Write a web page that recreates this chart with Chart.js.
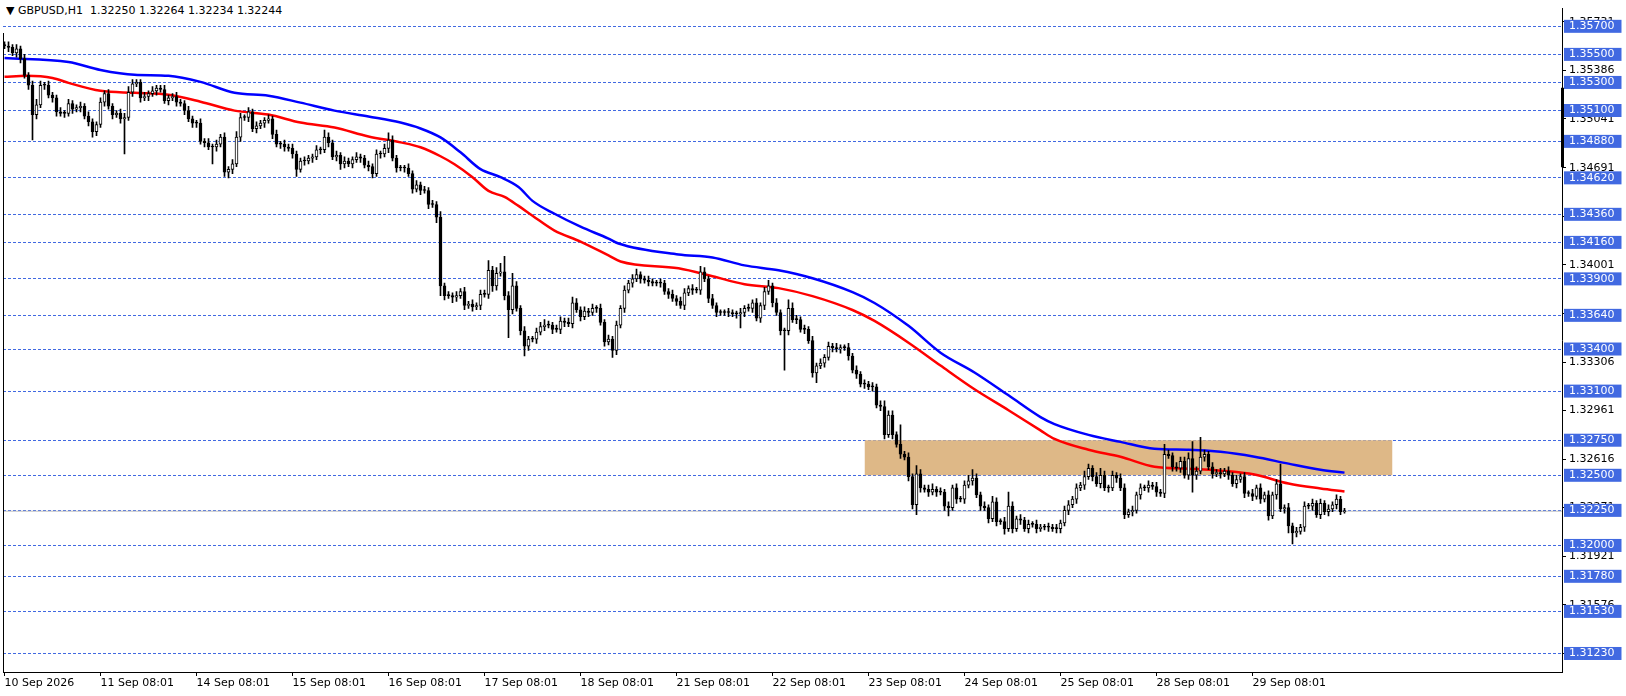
<!DOCTYPE html>
<html><head><meta charset="utf-8">
<script src="https://cdn.jsdelivr.net/npm/chart.js@4.4.1/dist/chart.umd.min.js"></script>
<style>
html,body{margin:0;padding:0;background:#fff;}
#wrap{position:relative;width:1626px;height:696px;}
#title{position:absolute;left:6px;top:4px;font:11px "DejaVu Sans",sans-serif;color:#000;background:#fff;padding-right:3px;line-height:13px;}
</style></head><body>
<div id="wrap"><canvas id="c" width="1626" height="696"></canvas>
<div id="title">▼ GBPUSD,H1&nbsp; 1.32250 1.32264 1.32234 1.32244</div></div>
<script>
// closes, in pips above 1.30000 (H1 bars)
const closePips = [
556,555,551,554,547,535,528,507,514,528,
528,521,519,509,508,508,515,511,512,513,
506,502,495,500,516,522,513,507,508,504,
505,523,529,530,519,520,522,524,526,525,
517,519,520,516,515,510,504,501,501,488,
487,484,484,486,491,466,468,472,491,505,
505,509,497,499,501,503,504,493,486,486,
484,483,479,468,474,474,476,477,482,482,
491,487,477,478,472,474,472,475,477,476,
471,470,465,479,479,483,489,476,469,469,
469,465,454,457,453,453,443,443,434,385,
378,378,377,378,381,371,372,370,371,379,
379,396,385,394,395,378,368,385,369,353,
342,347,347,352,356,357,357,354,354,360,
359,358,373,368,363,367,366,369,369,359,
345,347,339,357,369,382,387,390,393,390,
389,388,387,387,387,381,379,376,374,371,
380,383,382,382,395,390,376,371,366,366,
366,366,365,365,366,369,369,373,362,371,
381,385,373,366,353,353,369,361,361,354,
354,346,323,328,330,334,342,341,340,341,
341,335,325,322,315,315,313,313,300,299,
279,293,279,272,265,263,249,229,251,241,
240,238,240,238,238,228,227,241,233,233,
243,246,248,236,228,227,219,231,217,217,
212,228,212,219,218,212,215,215,212,213,
213,213,212,212,216,225,229,233,241,243,
249,255,249,244,250,241,241,250,248,241,
222,224,225,236,241,241,243,242,238,237,
265,264,256,255,260,250,262,250,253,263,
265,256,251,252,251,253,250,244,247,249,
237,237,235,241,233,236,221,236,244,226,
227,214,209,210,213,228,228,230,222,230,
224,226,229,233,224,224.4];
const firstOpenPips = 557;
// upper / lower wick lengths in pips beyond the body
const wickUp = [
2,3,2,3,2,3,2,3,4,3, 2,3,2,2,3,2,3,2,2,3, 2,3,2,2,3,2,3,2,2,3, 3,4,3,2,2,3,2,3,2,2,
3,2,2,3,2,2,3,2,2,3, 2,3,2,3,2,3,2,3,4,3, 2,3,2,3,2,2,3,2,3,2, 3,2,3,2,2,3,2,2,3,2,
5,3,2,3,2,3,2,2,3,2, 2,3,2,3,2,3,5,3,2,2, 2,3,2,3,2,3,2,3,2,4, 2,3,2,3,2,3,2,3,2,3,
3,7,3,4,6,11,3,9,3,2, 3,2,2,3,3,4,3,2,3,3, 2,3,4,3,2,3,2,3,2,3, 2,3,2,3,2,3,2,3,4,2,
2,3,2,2,3,2,2,3,2,3, 3,2,3,2,4,3,2,3,2,2, 2,3,2,2,3,2,3,2,3,2, 3,4,2,3,2,2,6,4,3,2,
3,2,3,2,3,2,3,2,3,2, 2,3,2,3,2,3,2,3,2,3, 4,3,3,2,14,2,3,2,6,3, 2,3,4,2,3,2,3,2,3,2,
3,4,6,3,2,3,2,4,3,2, 3,10,3,2,3,2,3,2,3,2, 2,3,2,3,2,3,3,2,3,2, 4,3,2,3,5,3,2,3,2,3,
3,2,3,2,3,2,3,2,3,2, 7,3,2,3,3,3,4,12,3,14, 3,2,3,2,3,2,3,2,3,2, 3,2,3,2,3,2,3,2,3,14,
2,3,2,3,2,3,2,3,2,3, 2,3,2,3,2,2];
const wickDn = [
2,3,2,3,3,2,3,18,3,2, 3,2,3,3,2,3,2,3,2,3, 2,3,4,3,2,3,2,3,2,3, 25,2,3,2,3,2,3,2,3,2,
2,3,2,3,2,3,2,3,3,2, 3,2,12,3,2,3,4,3,2,3, 2,3,2,3,2,3,2,3,2,3, 3,2,3,5,2,3,2,3,2,3,
2,3,2,3,4,3,2,3,2,3, 2,3,3,2,3,2,3,2,3,2, 3,2,3,2,3,2,3,2,4,7, 3,2,4,3,2,3,2,3,2,3,
2,3,4,3,2,3,20,3,2,3, 7,3,2,3,2,3,2,3,2,3, 3,2,3,2,3,2,3,2,3,2, 3,2,5,3,2,3,2,3,2,3,
2,3,2,2,3,2,3,2,3,2, 3,2,3,2,3,2,3,2,3,2, 2,3,2,3,10,3,2,3,2,3, 3,2,3,2,3,28,3,2,3,2,
3,2,3,7,2,3,2,3,2,3, 2,3,2,3,2,3,2,3,2,3, 3,2,3,2,3,2,3,3,7,3, 2,3,2,3,2,3,6,2,3,2,
3,2,3,2,3,2,3,2,3,2, 4,2,3,2,3,2,3,2,3,2, 2,3,2,3,3,2,3,2,3,2, 3,2,3,2,3,2,3,2,3,2,
3,2,3,2,3,2,3,2,3,2, 3,2,3,2,3,2,3,12,3,2, 3,2,3,2,3,2,3,2,3,2, 3,2,3,2,3,2,3,2,3,2,
3,5,8,3,2,3,2,3,2,3, 2,3,2,3,2,1];
// moving averages: [bar, pips]
const blueMA = [[0,547.4],[16,544.6],[24,538.9],[32.5,535.4],[41,534.7],[49,530.4],[57.5,522.6],[66,520.5],[74,515.6],[82.5,509.9],[91,505.7],[99,501.4],[104,497.2],[109,490.8],[114,480.2],[119,468.2],[124,462.5],[128.5,455.5],[132,445.6],[137.5,436.4],[144,427.2],[151,418.7],[153.5,415.2],[168.5,407.4],[177,405.3],[185,399.6],[193.5,396.1],[202,390.4],[212,380.5],[217.5,372.8],[226,356.5],[234,337.4],[242.5,323.3],[251,307.0],[259,291.5],[262.5,286.5],[271,278.8],[279,273.8],[287.5,268.9],[296,268.2],[304,266.7],[312.5,263.2],[321,258.3],[329,254.0],[335,251.9]];
const redMA = [[0,534],[5.5,534.7],[12,533.2],[16,529.7],[24,524],[32.5,522.6],[41,521.2],[49,516.3],[57.5,509.9],[66,507.1],[74,501.4],[82.5,497.9],[91,491.5],[99,487.3],[104,483.8],[109,477.4],[112.5,471.7],[117,462.5],[121,452.7],[125,448.4],[128.5,442.0],[132,435.0],[137.5,424.4],[144,416.6],[151,406.7],[154,402.4],[168.5,397.5],[177,391.9],[185,386.2],[193.5,383.4],[202,377.7],[212,367.8],[217.5,360.0],[226,344.5],[234,328.2],[242.5,311.3],[251,296.4],[259,282.0],[262.5,275.9],[271,268.2],[279,263.2],[287.5,256.1],[296,254.7],[304,253.3],[312.5,250.5],[321,244.1],[329,240.6],[335,238.5]];
const zoneBars = [215, 347];
const zoneLow = 1.32500, zoneHigh = 1.32750;
const lastPrice = 1.32244;
const blueLevels = [1.35700,1.35500,1.35300,1.35100,1.34880,1.34620,1.34360,1.34160,1.33900,1.33640,1.33400,1.33100,1.32750,1.32500,1.32250,1.32000,1.31780,1.31530,1.31230];
const grayLevels = [1.35731,1.35386,1.35041,1.34691,1.34346,1.34001,1.33651,1.33306,1.32961,1.32616,1.32271,1.31921,1.31576,1.31231];
const xTickBars = [0,24,48,72,96,120,144,168,192,216,240,264,288,312];
const xLabels = ['10 Sep 2026','11 Sep 08:01','14 Sep 08:01','15 Sep 08:01','16 Sep 08:01','17 Sep 08:01','18 Sep 08:01','21 Sep 08:01','22 Sep 08:01','23 Sep 08:01','24 Sep 08:01','25 Sep 08:01','28 Sep 08:01','29 Sep 08:01'];

const P = p => 1.3 + p/10000;
const closes = closePips.map(P);
const opens = closes.map((c,i)=> i===0 ? P(firstOpenPips) : closes[i-1]);
const bodies = closes.map((c,i)=>({x:i, y:[opens[i], c]}));
const wicks = closes.map((c,i)=>({x:i, y:[Math.min(opens[i],c)-wickDn[i]/10000, Math.max(opens[i],c)+wickUp[i]/10000]}));
const isUp = closes.map((c,i)=> c > opens[i]);
const blueSet = new Set(blueLevels.map(v=>v.toFixed(5)));
const isBlue = v => blueSet.has(Number(v).toFixed(5));
const XMIN = -0.375, XMAX = XMIN + 1559/4;
const LBLUE = '#4169E1';

const extras = {
  id:'extras',
  afterDraw(chart){
    const {ctx, chartArea:a, scales:{y}} = chart;
    ctx.save();
    ctx.fillStyle = '#000';
    ctx.fillRect(a.left, 33, 1, a.bottom-33);
    const y1 = y.getPixelForValue(1.35262), y2 = y.getPixelForValue(1.34696);
    ctx.fillRect(a.right-1, y1, 3, y2-y1);
    ctx.restore();
  }
};

new Chart(document.getElementById('c'), {
  data: {
    datasets: [
      {type:'bar', data: bodies, order:0, grouped:false, barThickness:3, minBarLength:1,
       backgroundColor: closes.map((c,i)=> isUp[i] ? '#ffffff' : '#000000'),
       borderColor:'#000', borderWidth:1, borderSkipped:false},
      {type:'bar', data: wicks, order:1, grouped:false, barThickness:1,
       backgroundColor:'#000', borderWidth:0},
      {type:'line', data: blueMA.map(([x,p])=>({x, y:P(p)})), order:2, borderColor:'#0000FF', borderWidth:2.5,
       pointRadius:0, cubicInterpolationMode:'monotone', fill:false},
      {type:'line', data: redMA.map(([x,p])=>({x, y:P(p)})), order:2, borderColor:'#FF0000', borderWidth:2.5,
       pointRadius:0, cubicInterpolationMode:'monotone', fill:false},
      {type:'line', data:[{x:XMIN,y:lastPrice},{x:XMAX,y:lastPrice}], order:3, borderColor:'#C0C0C0', borderWidth:1, pointRadius:0, fill:false},
      {type:'line', data: zoneBars.map(x=>({x, y:zoneLow})), order:4, borderWidth:0, pointRadius:0, fill:false},
      {type:'line', data: zoneBars.map(x=>({x, y:zoneHigh})), order:4, borderWidth:0, pointRadius:0, fill:'-1', backgroundColor:'#DEB887'}
    ]
  },
  options: {
    responsive:false, animation:false,
    layout:{padding:{left:3, top:3, right:0, bottom:0}},
    plugins:{legend:{display:false}, tooltip:{enabled:false}},
    scales:{
      x:{type:'linear', min:XMIN, max:XMAX, position:'bottom', offset:false,
         afterBuildTicks: s => { s.ticks = xTickBars.map(v=>({value:v})); },
         afterFit: s => { s.height = 24; },
         grid:{offset:false, drawOnChartArea:false, drawTicks:true, tickLength:4, tickColor:'#000'},
         border:{color:'#000', width:1},
         ticks:{autoSkip:false, maxRotation:0, align:'start', padding:1, color:'#000',
           font:{family:'DejaVu Sans', size:11},
           callback: (v,i) => xLabels[i]}},
      y:{type:'linear', position:'right', min:1.31098, max:1.35827,
         afterBuildTicks: s => { s.ticks = grayLevels.concat(blueLevels).map(v=>({value:v})); },
         afterFit: s => { s.width = 64; },
         grid:{drawOnChartArea:true, drawTicks:true, tickLength:4,
           color: c => isBlue(c.tick.value) ? LBLUE : 'rgba(0,0,0,0)',
           tickColor: c => isBlue(c.tick.value) ? 'rgba(0,0,0,0)' : '#000'},
         border:{color:'#000', width:1, dash:[3,2]},
         ticks:{autoSkip:false, padding:3, font:{family:'DejaVu Sans', size:11, lineHeight:1},
           color: c => isBlue(c.tick.value) ? '#ffffff' : '#000000',
           showLabelBackdrop:true,
           backdropColor: c => isBlue(c.tick.value) ? LBLUE : 'rgba(0,0,0,0)',
           backdropPadding:{left:5, right:7, top:1, bottom:1},
           callback: v => Number(v).toFixed(5)}}
    }
  },
  plugins:[extras]
});
</script></body></html>
